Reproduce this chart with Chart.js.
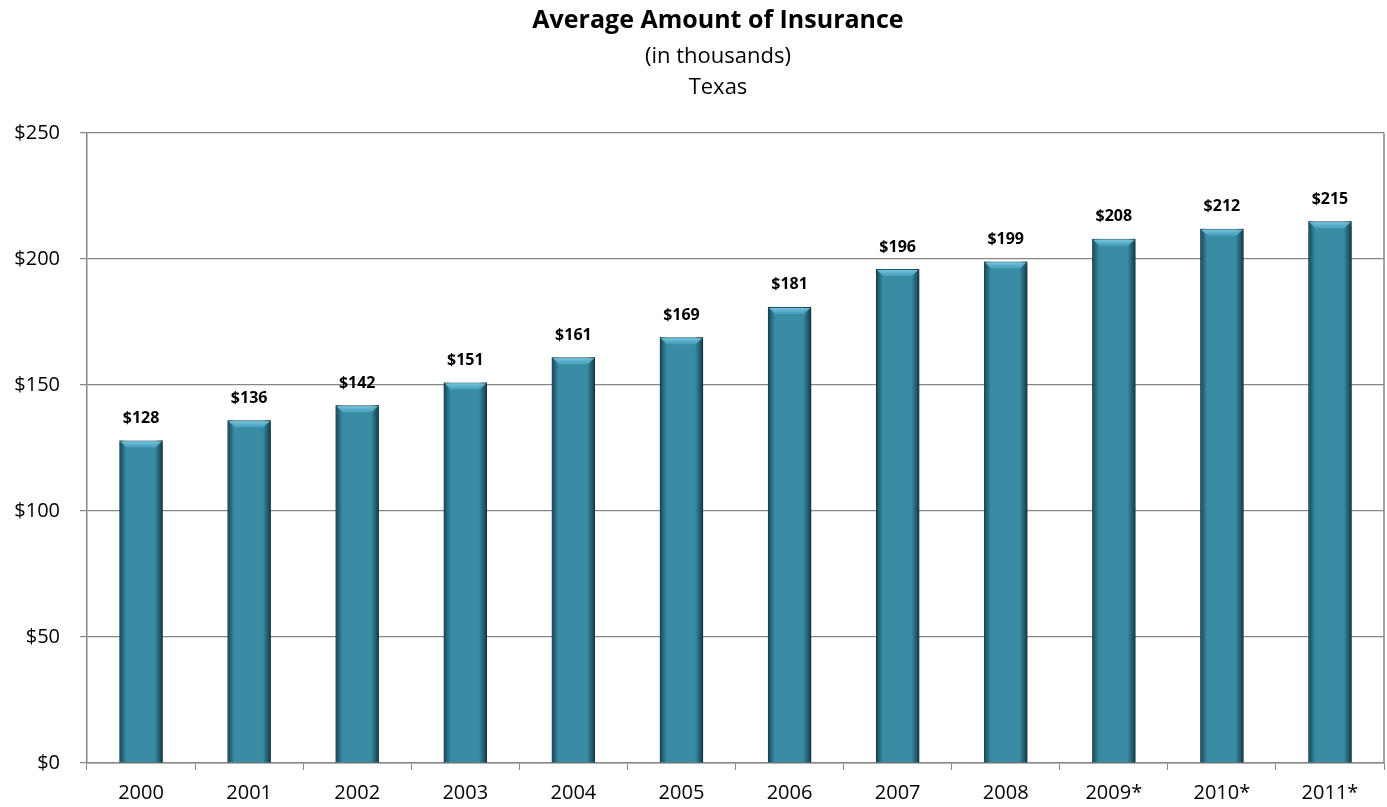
<!DOCTYPE html>
<html>
<head>
<meta charset="utf-8">
<script src="https://cdn.jsdelivr.net/npm/chart.js@4.4.1/dist/chart.umd.min.js"></script>
<style>
  html, body { margin: 0; padding: 0; background: #fff; }
  #wrap { width: 1387px; height: 807px; }
</style>
</head>
<body>
<div id="wrap"><canvas id="insChart" width="1387" height="807"></canvas></div>
<script>
// chart data
const years = ['2000', '2001', '2002', '2003', '2004', '2005', '2006', '2007', '2008', '2009*', '2010*', '2011*'];
const avgAmount = [128, 136, 142, 151, 161, 169, 181, 196, 199, 208, 212, 215];
const yTicks = [0, 50, 100, 150, 200, 250];

const FONT = '"Open Sans", "DejaVu Sans", sans-serif';

// title block in the original is centred a bit right of the canvas middle
const titleShift = {
    id: 'titleShift',
    afterLayout(chart) {
        chart.boxes.forEach(box => {
            if (box.position === 'top' && box.fullSize && box.options && box.options.text) {
                box.left = 52;
            }
        });
    }
};

// drop shadow behind bars
const barShadow = {
    id: 'barShadow',
    beforeDatasetDraw(chart) {
        const ctx = chart.ctx;
        ctx.save();
        ctx.shadowColor = 'rgba(0,0,0,0.4)';
        ctx.shadowBlur = 7;
        ctx.shadowOffsetX = 5;
        ctx.shadowOffsetY = 3;
    },
    afterDatasetDraw(chart) {
        chart.ctx.restore();
    }
};

// bevel look + value labels + right border
const barDecor = {
    id: 'barDecor',
    afterDatasetsDraw(chart) {
        const ctx = chart.ctx;
        const area = chart.chartArea;
        const meta = chart.getDatasetMeta(0);
        meta.data.forEach((bar, i) => {
            const l = bar.x - bar.width / 2;
            const r = bar.x + bar.width / 2;
            const t = bar.y;
            const b = bar.base;
            ctx.save();
            // left edge darkening
            let g = ctx.createLinearGradient(l, 0, l + 7, 0);
            g.addColorStop(0, 'rgba(10,45,58,0.75)');
            g.addColorStop(1, 'rgba(10,45,58,0)');
            ctx.fillStyle = g;
            ctx.fillRect(l, t, 7, b - t);
            // right edge darkening
            g = ctx.createLinearGradient(r - 8, 0, r, 0);
            g.addColorStop(0, 'rgba(10,45,58,0)');
            g.addColorStop(1, 'rgba(10,45,58,0.85)');
            ctx.fillStyle = g;
            ctx.fillRect(r - 8, t, 8, b - t);
            // top bevel
            ctx.beginPath();
            ctx.moveTo(l + 1, t + 1);
            ctx.lineTo(r - 1, t + 1);
            ctx.lineTo(r - 7, t + 7);
            ctx.lineTo(l + 7, t + 7);
            ctx.closePath();
            g = ctx.createLinearGradient(0, t, 0, t + 7);
            g.addColorStop(0, 'rgba(130,210,235,0.95)');
            g.addColorStop(1, 'rgba(80,170,200,0.6)');
            ctx.fillStyle = g;
            ctx.fill();
            ctx.restore();

            ctx.save();
            ctx.font = 'bold 16px ' + FONT;
            ctx.fillStyle = '#000';
            ctx.textAlign = 'center';
            ctx.textBaseline = 'middle';
            ctx.fillText('$' + avgAmount[i], bar.x, t - 22);
            ctx.restore();
        });

        ctx.save();
        ctx.strokeStyle = '#868686';
        ctx.lineWidth = 1.5;
        ctx.beginPath();
        ctx.moveTo(area.right, area.top);
        ctx.lineTo(area.right, area.bottom);
        ctx.stroke();
        ctx.restore();
    }
};

function initChart() {
    const ctx = document.getElementById('insChart').getContext('2d');
    new Chart(ctx, {
        type: 'bar',
        data: {
            labels: years,
            datasets: [{
                data: avgAmount,
                backgroundColor: '#3a8ca5',
                borderColor: '#1f5a6c',
                borderWidth: 1,
                barPercentage: 0.4,
                categoryPercentage: 1
            }]
        },
        options: {
            responsive: false,
            animation: false,
            layout: { padding: { left: 0, right: 3, top: 0, bottom: 0 } },
            plugins: {
                legend: { display: false },
                tooltip: { enabled: false },
                title: {
                    display: true,
                    text: 'Average Amount of Insurance',
                    color: '#000',
                    font: { family: FONT, size: 25, weight: 'bold', lineHeight: 1.2 },
                    padding: { top: 6, bottom: 5.5 }
                },
                subtitle: {
                    display: true,
                    text: ['(in thousands)', 'Texas'],
                    color: '#000',
                    font: { family: FONT, size: 22, lineHeight: 1.41 },
                    padding: { top: 0, bottom: 29.5 }
                }
            },
            scales: {
                x: {
                    afterFit: s => { s.height = 44; },
                    grid: {
                        offset: true,
                        drawOnChartArea: false,
                        drawTicks: true,
                        tickLength: 7,
                        color: '#868686'
                    },
                    border: { color: '#868686', width: 1.5 },
                    ticks: {
                        color: '#000',
                        padding: 11,
                        font: { family: FONT, size: 20 }
                    }
                },
                y: {
                    min: 0,
                    max: 250,
                    afterFit: s => { s.width = 87; },
                    afterBuildTicks: s => { s.ticks = yTicks.map(v => ({ value: v })); },
                    grid: { color: '#868686', lineWidth: 1.2, tickLength: 7 },
                    border: { color: '#868686', width: 1.5 },
                    ticks: {
                        color: '#000',
                        padding: 20,
                        font: { family: FONT, size: 20 },
                        callback: v => '$' + v
                    }
                }
            }
        },
        plugins: [titleShift, barShadow, barDecor]
    });
}

document.addEventListener('DOMContentLoaded', initChart);
</script>
</body>
</html>
